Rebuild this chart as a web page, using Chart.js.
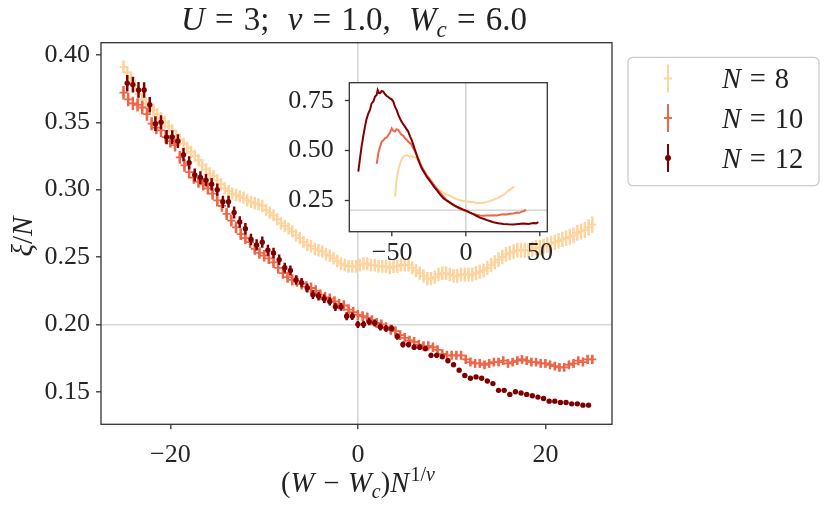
<!DOCTYPE html>
<html>
<head>
<meta charset="utf-8">
<script src="https://cdn.jsdelivr.net/npm/chart.js@4.4.0/dist/chart.umd.min.js"></script>
<style>
  body { margin: 0; background: #fff; }
  #wrap { position: relative; width: 830px; height: 509px; }
  #main { position: absolute; left: 0; top: 0; }
  #inset { position: absolute; left: 240px; top: 50px; }
</style>
</head>
<body>
<div id="wrap">
  <canvas id="main" width="830" height="509"></canvas>
  <canvas id="inset" width="330" height="225"></canvas>
</div>
<script>
// sample grid helper: x = (W - Wc) * N on a regular W grid
const grid = (start, step, n) => Array.from({ length: n }, (_, i) => +(start + i * step).toFixed(2));

// ---- main plot data ----
const x8 = grid(-25, 0.4, 126);
const y8 = [
  0.391, 0.387, 0.383, 0.377, 0.371, 0.367, 0.364, 0.361, 0.359, 0.356,
  0.353, 0.350, 0.347, 0.344, 0.340, 0.337, 0.334, 0.331, 0.328, 0.325,
  0.322, 0.318, 0.315, 0.312, 0.310, 0.307, 0.304, 0.301, 0.299, 0.297,
  0.296, 0.295, 0.294, 0.292, 0.291, 0.290, 0.289, 0.288, 0.285, 0.283,
  0.281, 0.278, 0.275, 0.273, 0.271, 0.269, 0.266, 0.264, 0.261, 0.259,
  0.258, 0.256, 0.255, 0.254, 0.252, 0.251, 0.249, 0.247, 0.245, 0.244,
  0.243, 0.243, 0.243, 0.244, 0.245, 0.245, 0.244, 0.244, 0.243, 0.243,
  0.243, 0.242, 0.243, 0.243, 0.244, 0.244, 0.244, 0.242, 0.240, 0.238,
  0.236, 0.234, 0.234, 0.235, 0.237, 0.238, 0.238, 0.237, 0.236, 0.236,
  0.237, 0.237, 0.237, 0.237, 0.238, 0.239, 0.240, 0.242, 0.244, 0.246,
  0.248, 0.250, 0.252, 0.253, 0.254, 0.255, 0.255, 0.255, 0.255, 0.256,
  0.257, 0.257, 0.258, 0.259, 0.260, 0.261, 0.262, 0.263, 0.264, 0.265,
  0.266, 0.268, 0.269, 0.270, 0.272, 0.274
];
const e8 = [
  0.0046, 0.0046, 0.0045, 0.0045, 0.0045, 0.0045, 0.0045, 0.0045, 0.0044, 0.0044,
  0.0044, 0.0044, 0.0044, 0.0044, 0.0044, 0.0044, 0.0043, 0.0043, 0.0043, 0.0043,
  0.0043, 0.0043, 0.0043, 0.0043, 0.0043, 0.0043, 0.0043, 0.0043, 0.0043, 0.0043,
  0.0043, 0.0043, 0.0043, 0.0043, 0.0043, 0.0043, 0.0043, 0.0043, 0.0043, 0.0043,
  0.0043, 0.0043, 0.0043, 0.0043, 0.0043, 0.0043, 0.0043, 0.0043, 0.0043, 0.0043,
  0.0044, 0.0044, 0.0044, 0.0044, 0.0044, 0.0044, 0.0044, 0.0044, 0.0044, 0.0044,
  0.0045, 0.0045, 0.0045, 0.0045, 0.0045, 0.0045, 0.0045, 0.0045, 0.0045, 0.0045,
  0.0046, 0.0046, 0.0046, 0.0046, 0.0046, 0.0046, 0.0046, 0.0046, 0.0047, 0.0047,
  0.0047, 0.0047, 0.0047, 0.0047, 0.0048, 0.0048, 0.0048, 0.0048, 0.0048, 0.0048,
  0.0049, 0.0049, 0.0049, 0.0049, 0.0050, 0.0050, 0.0050, 0.0050, 0.0051, 0.0051,
  0.0051, 0.0051, 0.0052, 0.0052, 0.0052, 0.0052, 0.0053, 0.0053, 0.0053, 0.0053,
  0.0054, 0.0054, 0.0054, 0.0054, 0.0055, 0.0055, 0.0055, 0.0055, 0.0056, 0.0056,
  0.0056, 0.0056, 0.0057, 0.0057, 0.0057, 0.0058
];

const x10 = grid(-25, 0.5, 101);
const y10 = [
  0.372, 0.367, 0.364, 0.363, 0.361, 0.356, 0.349, 0.346, 0.344, 0.339,
  0.336, 0.333, 0.324, 0.318, 0.313, 0.309, 0.306, 0.304, 0.301, 0.297,
  0.292, 0.288, 0.282, 0.277, 0.272, 0.267, 0.264, 0.261, 0.256, 0.253,
  0.251, 0.249, 0.246, 0.242, 0.238, 0.235, 0.233, 0.232, 0.230, 0.228,
  0.227, 0.225, 0.222, 0.220, 0.219, 0.217, 0.215, 0.214, 0.211, 0.209,
  0.207, 0.206, 0.205, 0.203, 0.201, 0.200, 0.198, 0.196, 0.195, 0.192,
  0.190, 0.188, 0.187, 0.185, 0.184, 0.184, 0.183, 0.181, 0.178, 0.177,
  0.177, 0.177, 0.177, 0.174, 0.172, 0.171, 0.171, 0.170, 0.171, 0.172,
  0.172, 0.173, 0.171, 0.172, 0.173, 0.174, 0.173, 0.172, 0.172, 0.171,
  0.171, 0.170, 0.169, 0.168, 0.168, 0.170, 0.171, 0.173, 0.172, 0.174,
  0.174
];
const e10 = [
  0.0048, 0.0048, 0.0047, 0.0047, 0.0047, 0.0046, 0.0046, 0.0046, 0.0046, 0.0045,
  0.0045, 0.0045, 0.0045, 0.0045, 0.0044, 0.0044, 0.0044, 0.0044, 0.0043, 0.0043,
  0.0043, 0.0042, 0.0042, 0.0042, 0.0042, 0.0041, 0.0041, 0.0041, 0.0041, 0.0040,
  0.0040, 0.0040, 0.0040, 0.0040, 0.0039, 0.0039, 0.0039, 0.0039, 0.0038, 0.0038,
  0.0038, 0.0038, 0.0037, 0.0037, 0.0037, 0.0037, 0.0036, 0.0036, 0.0036, 0.0036,
  0.0035, 0.0035, 0.0035, 0.0035, 0.0035, 0.0034, 0.0034, 0.0034, 0.0034, 0.0034,
  0.0033, 0.0033, 0.0033, 0.0033, 0.0033, 0.0032, 0.0032, 0.0032, 0.0032, 0.0032,
  0.0031, 0.0031, 0.0031, 0.0031, 0.0031, 0.0030, 0.0030, 0.0030, 0.0030, 0.0030,
  0.0030, 0.0030, 0.0030, 0.0030, 0.0030, 0.0030, 0.0030, 0.0030, 0.0030, 0.0030,
  0.0030, 0.0030, 0.0030, 0.0030, 0.0030, 0.0030, 0.0031, 0.0031, 0.0031, 0.0031,
  0.0031
];

const x12 = grid(-24.6, 0.6, 83);
const y12 = [
  0.379, 0.378, 0.374, 0.374, 0.363, 0.349, 0.350, 0.339, 0.339, 0.336,
  0.326, 0.320, 0.311, 0.309, 0.307, 0.304, 0.300, 0.291, 0.291, 0.283,
  0.276, 0.271, 0.263, 0.259, 0.261, 0.255, 0.253, 0.248, 0.242, 0.240,
  0.233, 0.231, 0.227, 0.222, 0.221, 0.219, 0.217, 0.213, 0.213, 0.206,
  0.206, 0.200, 0.200, 0.202, 0.201, 0.198, 0.197, 0.197, 0.191, 0.185,
  0.185, 0.183, 0.183, 0.182, 0.177, 0.177, 0.176, 0.173, 0.170, 0.166,
  0.162, 0.160, 0.161, 0.160, 0.158, 0.156, 0.151, 0.151, 0.148, 0.150,
  0.149, 0.148, 0.147, 0.146, 0.145, 0.143, 0.143, 0.142, 0.142, 0.141,
  0.141, 0.140, 0.140
];
const e12 = [
  0.0058, 0.0056, 0.0056, 0.0055, 0.0055, 0.0052, 0.0050, 0.0050, 0.0049, 0.0048,
  0.0047, 0.0046, 0.0045, 0.0045, 0.0044, 0.0044, 0.0043, 0.0043, 0.0042, 0.0042,
  0.0041, 0.0040, 0.0040, 0.0039, 0.0039, 0.0038, 0.0037, 0.0036, 0.0035, 0.0034,
  0.0033, 0.0032, 0.0031, 0.0030, 0.0030, 0.0029, 0.0028, 0.0028, 0.0027, 0.0027,
  0.0026, 0.0025, 0.0025, 0.0024, 0.0023, 0.0023, 0.0022, 0.0021, 0.0021, 0.0020,
  0.0019, 0.0018, 0.0018, 0.0017, 0.0016, 0.0016, 0.0015, 0.0015, 0.0014, 0.0014,
  0.0013, 0.0013, 0.0012, 0.0012, 0.0012, 0.0011, 0.0011, 0.0011, 0.0011, 0.0010,
  0.0010, 0.0010, 0.0010, 0.0010, 0.0010, 0.0010, 0.0010, 0.0010, 0.0010, 0.0010,
  0.0010, 0.0010, 0.0010
];

// ---- inset data ----
const inX8 = [-48.1, -47.5, -47.0, -46.4, -45.8, -45.0, -44.2, -43.3, -42.4, -41.3, -40.2, -39.1, -37.9, -36.8, -35.7, -34.5,
  -33.4, -32.3, -31.2, -30.0, -28.9, -27.7, -26.6, -24.9, -23.3, -21.6, -19.9, -17.6, -15.3, -13.0, -10.8, -8.5, -6.3, -4.0,
  -1.8, 0.5, 2.7, 5.0, 7.2, 9.5, 11.7, 14.0, 16.3, 18.5, 20.8, 23.0, 25.3, 27.0, 28.7, 30.7, 32.7];
const inY8 = [0.268, 0.310, 0.352, 0.380, 0.403, 0.425, 0.445, 0.460, 0.470, 0.474, 0.478, 0.474, 0.470, 0.472, 0.466, 0.468,
  0.461, 0.450, 0.436, 0.420, 0.403, 0.386, 0.369, 0.352, 0.336, 0.322, 0.310, 0.299, 0.289, 0.280, 0.272, 0.263, 0.255, 0.250,
  0.247, 0.244, 0.243, 0.242, 0.235, 0.237, 0.238, 0.242, 0.247, 0.253, 0.260, 0.268, 0.277, 0.287, 0.299, 0.309, 0.319];

const inX10 = [-60.5, -59.9, -59.4, -58.2, -57.1, -56.0, -54.9, -53.7, -52.6, -51.5, -50.3, -49.2, -48.1, -47.0, -45.8, -44.7,
  -43.6, -42.4, -41.3, -40.2, -39.1, -37.9, -36.8, -35.7, -34.5, -33.4, -32.3, -31.2, -30.0, -28.3, -26.6, -24.9, -23.3, -21.6,
  -19.9, -17.6, -15.3, -13.0, -10.8, -8.5, -6.3, -4.0, -1.8, 0.5, 2.7, 5.0, 7.2, 9.5, 11.7, 14.0, 16.3, 18.5, 20.8, 23.0, 25.3,
  27.5, 29.8, 32.0, 34.3, 36.0, 37.7, 39.0, 40.6];
const inY10 = [0.433, 0.460, 0.487, 0.520, 0.545, 0.552, 0.562, 0.566, 0.579, 0.590, 0.612, 0.600, 0.596, 0.608, 0.604, 0.590,
  0.579, 0.575, 0.562, 0.555, 0.545, 0.538, 0.529, 0.512, 0.495, 0.478, 0.461, 0.440, 0.419, 0.398, 0.377, 0.360, 0.344, 0.327,
  0.310, 0.289, 0.268, 0.250, 0.237, 0.226, 0.216, 0.207, 0.200, 0.194, 0.187, 0.181, 0.177, 0.174, 0.172, 0.173, 0.173, 0.175,
  0.174, 0.177, 0.180, 0.179, 0.182, 0.184, 0.188, 0.187, 0.193, 0.195, 0.203];

const inX12 = [-72.9, -71.8, -70.7, -69.5, -68.4, -67.3, -66.1, -65.0, -63.9, -62.7, -61.6, -60.5, -59.8, -58.9, -58.2, -57.1,
  -56.0, -54.9, -53.7, -52.6, -51.5, -50.3, -49.2, -48.1, -47.0, -45.8, -44.7, -43.6, -42.4, -41.3, -40.2, -39.1, -37.9, -36.8,
  -35.7, -34.5, -33.4, -32.3, -31.2, -30.0, -28.3, -26.6, -24.9, -23.3, -21.6, -19.9, -17.6, -15.3, -13.0, -10.8, -8.5, -6.3,
  -4.0, -1.8, 0.5, 2.7, 5.0, 7.2, 9.5, 11.7, 15.1, 18.5, 21.9, 25.3, 28.7, 32.1, 35.5, 38.8, 42.2, 45.6, 47.3, 49.0];
const inY12 = [0.394, 0.460, 0.520, 0.575, 0.621, 0.660, 0.688, 0.705, 0.738, 0.748, 0.772, 0.780, 0.805, 0.790, 0.789, 0.800,
  0.797, 0.785, 0.775, 0.770, 0.763, 0.758, 0.747, 0.721, 0.705, 0.680, 0.662, 0.646, 0.632, 0.621, 0.608, 0.596, 0.572, 0.554,
  0.530, 0.503, 0.478, 0.453, 0.432, 0.411, 0.390, 0.369, 0.352, 0.336, 0.318, 0.302, 0.280, 0.260, 0.248, 0.238, 0.227, 0.218,
  0.210, 0.203, 0.197, 0.188, 0.180, 0.171, 0.163, 0.157, 0.148, 0.140, 0.135, 0.131, 0.129, 0.128, 0.131, 0.133, 0.131, 0.136,
  0.134, 0.140];

// ---- axes, ticks, labels ----
const xTicks = [-20, 0, 20];
const yTicks = [0.15, 0.20, 0.25, 0.30, 0.35, 0.40];
const inXTicks = [-50, 0, 50];
const inYTicks = [0.25, 0.50, 0.75];
const refX = 0;
const refY = 0.2;
const sizes = ['8', '10', '12'];
const colors = ['#fdd49e', '#ef6548', '#7f0000'];

const SERIF = '"Liberation Serif", "DejaVu Serif", serif';
const tickFont = { family: SERIF, size: 26 };
const minus = v => (v < 0 ? '\u2212' : '') + Math.abs(v);

const pts = (xs, ys) => xs.map((x, i) => ({ x, y: ys[i] }));
const bars = (xs, ys, es) => xs.map((x, i) => ({ x, y: [ys[i] - es[i], ys[i] + es[i]] }));

// mixed italic / roman text, with sub- and superscripts; style 'g' = extra gap in em
function rich(ctx, parts, x, y, size, align) {
  const items = parts.map(([t, s]) => {
    if (s === 'g') return { t: '', gap: t * size };
    const small = s.includes('_') || s.includes('^');
    const fs = small ? size * 0.7 : size;
    return {
      t,
      font: (s.includes('i') ? 'italic ' : '') + fs + 'px ' + SERIF,
      dy: s.includes('_') ? size * 0.2 : s.includes('^') ? -size * 0.4 : 0
    };
  });
  let w = 0;
  items.forEach(it => {
    if (it.gap !== undefined) { it.w = it.gap; } else { ctx.font = it.font; it.w = ctx.measureText(it.t).width; }
    w += it.w;
  });
  let cx = align === 'left' ? x : x - w / 2;
  ctx.textBaseline = 'alphabetic';
  ctx.textAlign = 'left';
  items.forEach(it => {
    if (it.t) { ctx.font = it.font; ctx.fillText(it.t, cx, y + it.dy); }
    cx += it.w;
  });
}
const EQ = [[0.06, 'g'], [' = ', 'r'], [0.06, 'g']];

const gridColor = target => c => (c.tick && Math.abs(c.tick.value - target) < 1e-9) ? '#d6d6d6' : 'rgba(0,0,0,0)';

const mainDecor = {
  id: 'mainDecor',
  beforeDraw(chart) {
    const { ctx, width, height } = chart;
    ctx.save();
    ctx.fillStyle = '#fff';
    ctx.fillRect(0, 0, width, height);
    ctx.restore();
  },
  afterDraw(chart) {
    const { ctx, chartArea: a } = chart;
    ctx.save();
    ctx.strokeStyle = '#333';
    ctx.lineWidth = 1.3;
    ctx.strokeRect(a.left, a.top, a.right - a.left, a.bottom - a.top);

    ctx.fillStyle = '#222';
    rich(ctx, [['U', 'i'], ...EQ, ['3;', 'r'], [0.55, 'g'], ['\u03bd', 'i'], ...EQ, ['1.0,', 'r'], [0.55, 'g'],
      ['W', 'i'], ['c', 'i_'], ...EQ, ['6.0', 'r']], 354, 30, 33);
    rich(ctx, [['(', 'r'], ['W', 'i'], [0.06, 'g'], [' \u2212 ', 'r'], [0.06, 'g'], ['W', 'i'], ['c', 'i_'], [')', 'r'],
      ['N', 'i'], [0.05, 'g'], ['1/', 'r^'], ['\u03bd', 'i^']], 358, 492, 28.5);
    ctx.save();
    ctx.translate(32, (a.top + a.bottom) / 2 + 3);
    ctx.rotate(-Math.PI / 2);
    rich(ctx, [['\u03be', 'i'], ['/', 'r'], ['N', 'i']], 0, 0, 29);
    ctx.restore();

    // legend
    ctx.beginPath();
    ctx.roundRect(628, 57.3, 191, 128.4, 5);
    ctx.fillStyle = 'rgba(255,255,255,0.8)';
    ctx.fill();
    ctx.strokeStyle = '#cccccc';
    ctx.lineWidth = 1.3;
    ctx.stroke();
    const rows = [78.5, 118, 158];
    sizes.forEach((n, i) => {
      const cy = rows[i], mx = 668;
      ctx.strokeStyle = colors[i];
      ctx.fillStyle = colors[i];
      ctx.lineWidth = 2;
      ctx.beginPath();
      ctx.moveTo(mx, cy - 14);
      ctx.lineTo(mx, cy + 14);
      if (i < 2) { ctx.moveTo(mx - 4, cy); ctx.lineTo(mx + 4, cy); }
      ctx.stroke();
      if (i === 2) { ctx.beginPath(); ctx.arc(mx, cy, 3, 0, Math.PI * 2); ctx.fill(); }
      ctx.fillStyle = '#222';
      rich(ctx, [['N', 'i'], ...EQ, [n, 'r']], 722, cy + 9.5, 28.5, 'left');
    });
    ctx.restore();
  }
};

new Chart(document.getElementById('main'), {
  type: 'scatter',
  data: {
    datasets: [
      { label: 'N = 12', data: pts(x12, y12), pointStyle: 'circle', pointRadius: 2.7, pointBorderWidth: 0,
        backgroundColor: colors[2], borderColor: colors[2], order: 1 },
      { type: 'bar', data: bars(x12, y12, e12), backgroundColor: colors[2], borderWidth: 0,
        barThickness: 1.8, grouped: false, order: 2 },
      { label: 'N = 10', data: pts(x10, y10), pointStyle: 'cross', pointRadius: 4, pointBorderWidth: 1.8,
        borderColor: colors[1], backgroundColor: colors[1], order: 3 },
      { type: 'bar', data: bars(x10, y10, e10), backgroundColor: colors[1], borderWidth: 0,
        barThickness: 1.8, grouped: false, order: 4 },
      { label: 'N = 8', data: pts(x8, y8), pointStyle: 'cross', pointRadius: 4, pointBorderWidth: 1.8,
        borderColor: colors[0], backgroundColor: colors[0], order: 5 },
      { type: 'bar', data: bars(x8, y8, e8), backgroundColor: colors[0], borderWidth: 0,
        barThickness: 1.8, grouped: false, order: 6 }
    ]
  },
  options: {
    responsive: false,
    animation: false,
    events: [],
    layout: { padding: { left: 0, top: 42.7, right: 218, bottom: 0 } },
    plugins: { legend: { display: false }, tooltip: { enabled: false } },
    scales: {
      x: {
        type: 'linear', min: -27.4, max: 27.1, offset: false,
        afterFit: s => { s.height = 84.7; },
        afterBuildTicks: s => { s.ticks = xTicks.map(v => ({ value: v })); },
        ticks: { font: tickFont, color: '#262626', padding: 10, maxRotation: 0, callback: minus },
        grid: { color: gridColor(refX), lineWidth: 1.6, tickLength: 5, tickColor: '#333', tickWidth: 1.3, offset: false },
        border: { display: false }
      },
      y: {
        type: 'linear', min: 0.1258, max: 0.4091,
        afterFit: s => { s.width = 101; },
        afterBuildTicks: s => { s.ticks = yTicks.map(v => ({ value: v })); },
        ticks: { font: tickFont, color: '#262626', padding: 6, callback: v => v.toFixed(2) },
        grid: { color: gridColor(refY), lineWidth: 1.6, tickLength: 5, tickColor: '#333', tickWidth: 1.3 },
        border: { display: false }
      }
    }
  },
  plugins: [mainDecor]
});

const insetDecor = {
  id: 'insetDecor',
  beforeDraw(chart) {
    const { ctx, chartArea: a } = chart;
    ctx.save();
    ctx.fillStyle = '#fff';
    ctx.fillRect(a.left, a.top, a.right - a.left, a.bottom - a.top);
    ctx.restore();
  },
  afterDraw(chart) {
    const { ctx, chartArea: a } = chart;
    ctx.save();
    ctx.strokeStyle = '#333';
    ctx.lineWidth = 1.3;
    ctx.strokeRect(a.left, a.top, a.right - a.left, a.bottom - a.top);
    ctx.restore();
  }
};

const inXMin = -79, inXMax = 55;
const line = (xs, ys, c, order) => ({ data: pts(xs, ys), showLine: true, borderColor: c, borderWidth: 2,
  pointRadius: 0, tension: 0, order });

new Chart(document.getElementById('inset'), {
  type: 'scatter',
  data: {
    datasets: [
      line(inX12, inY12, colors[2], 1),
      line(inX10, inY10, colors[1], 2),
      line(inX8, inY8, colors[0], 3),
      { data: [{ x: inXMin, y: refY }, { x: inXMax, y: refY }], showLine: true, borderColor: '#d6d6d6',
        borderWidth: 1.6, pointRadius: 0, order: 4 }
    ]
  },
  options: {
    responsive: false,
    animation: false,
    events: [],
    layout: { padding: { left: 0, top: 32.7, right: 22.7, bottom: 0 } },
    plugins: { legend: { display: false }, tooltip: { enabled: false } },
    scales: {
      x: {
        type: 'linear', min: inXMin, max: inXMax,
        afterFit: s => { s.height = 43.3; },
        afterBuildTicks: s => { s.ticks = inXTicks.map(v => ({ value: v })); },
        ticks: { font: tickFont, color: '#262626', padding: 1, maxRotation: 0, callback: minus },
        grid: { color: gridColor(refX), lineWidth: 1.6, tickLength: 4.5, tickColor: '#333', tickWidth: 1.3 },
        border: { display: false }
      },
      y: {
        type: 'linear', min: 0.092, max: 0.842,
        afterFit: s => { s.width = 109.3; },
        afterBuildTicks: s => { s.ticks = inYTicks.map(v => ({ value: v })); },
        ticks: { font: tickFont, color: '#262626', padding: 11, callback: v => v.toFixed(2) },
        grid: { color: 'rgba(0,0,0,0)', tickLength: 4.5, tickColor: '#333', tickWidth: 1.3 },
        border: { display: false }
      }
    }
  },
  plugins: [insetDecor]
});
</script>
</body>
</html>
